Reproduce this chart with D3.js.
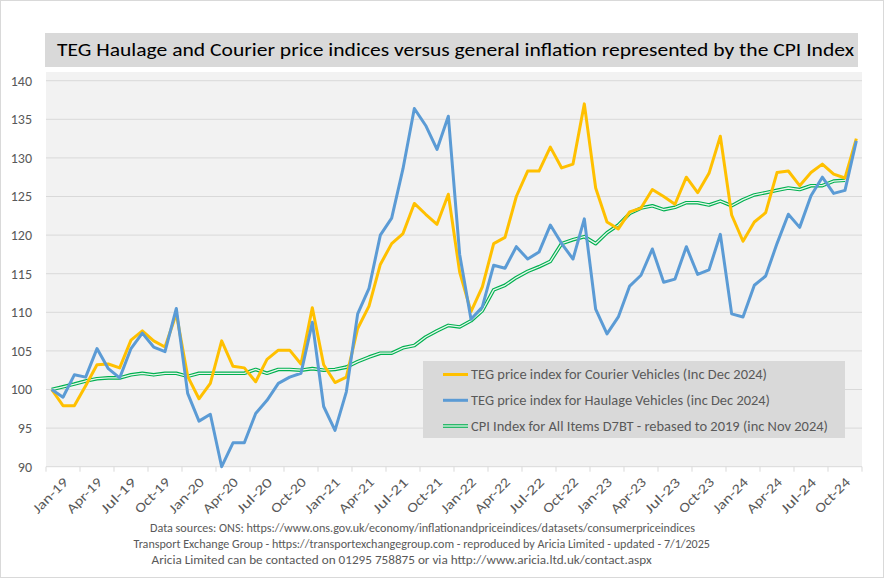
<!DOCTYPE html>
<html><head><meta charset="utf-8">
<script src="https://cdn.jsdelivr.net/npm/d3@7/dist/d3.min.js"></script>
<style>
html,body{margin:0;padding:0;background:#fff;}
svg{display:block;}
text{font-family:Carlito,"Liberation Sans Narrow","Liberation Sans",sans-serif;}
</style></head>
<body>
<svg id="c" width="885" height="580"></svg>
<script>
const months = ["Jan-19","Feb-19","Mar-19","Apr-19","May-19","Jun-19","Jul-19","Aug-19","Sep-19","Oct-19","Nov-19","Dec-19",
"Jan-20","Feb-20","Mar-20","Apr-20","May-20","Jun-20","Jul-20","Aug-20","Sep-20","Oct-20","Nov-20","Dec-20",
"Jan-21","Feb-21","Mar-21","Apr-21","May-21","Jun-21","Jul-21","Aug-21","Sep-21","Oct-21","Nov-21","Dec-21",
"Jan-22","Feb-22","Mar-22","Apr-22","May-22","Jun-22","Jul-22","Aug-22","Sep-22","Oct-22","Nov-22","Dec-22",
"Jan-23","Feb-23","Mar-23","Apr-23","May-23","Jun-23","Jul-23","Aug-23","Sep-23","Oct-23","Nov-23","Dec-23",
"Jan-24","Feb-24","Mar-24","Apr-24","May-24","Jun-24","Jul-24","Aug-24","Sep-24","Oct-24","Nov-24","Dec-24"];

const courier = [100.0,97.9,97.9,100.5,103.2,103.3,102.8,106.4,107.6,106.3,105.5,109.8,
101.7,98.8,100.8,106.3,103.0,102.8,101.0,103.9,105.1,105.1,103.3,110.6,
103.2,100.9,101.6,107.9,110.8,116.2,118.9,120.2,124.1,122.7,121.4,125.3,
115.2,110.1,113.3,118.9,119.7,125.0,128.3,128.3,131.4,128.7,129.2,137.0,
126.1,121.7,120.8,123.0,123.5,125.9,125.0,124.0,127.5,125.5,128.0,132.8,
122.6,119.2,121.7,122.9,128.1,128.3,126.4,128.1,129.2,127.9,127.4,132.5];

const haulage = [100.0,99.0,101.9,101.6,105.3,102.7,101.5,105.3,107.3,105.5,104.9,110.5,
99.5,95.9,96.8,90.0,93.1,93.1,96.9,98.6,100.8,101.6,102.1,108.7,
97.8,94.7,99.7,109.8,113.1,120.0,122.2,128.6,136.4,134.2,131.1,135.4,
117.5,109.1,110.7,116.1,115.7,118.5,116.9,117.8,121.3,118.9,116.9,122.1,
110.4,107.2,109.4,113.4,114.8,118.2,113.9,114.3,118.5,114.9,115.5,120.1,
109.8,109.4,113.5,114.7,118.9,122.7,121.0,125.1,127.5,125.4,125.8,132.2];

const cpi = [100.0,100.35,100.7,101.1,101.4,101.5,101.5,101.9,102.1,101.9,102.1,102.1,
101.7,102.1,102.1,102.1,102.1,102.1,102.6,102.1,102.6,102.6,102.5,102.7,
102.5,102.6,102.9,103.6,104.2,104.7,104.7,105.4,105.7,106.8,107.6,108.3,
108.1,108.9,110.2,112.9,113.5,114.5,115.3,115.9,116.6,118.9,119.4,119.8,
118.9,120.3,121.3,122.8,123.5,123.8,123.3,123.6,124.2,124.2,123.9,124.4,
123.8,124.6,125.2,125.5,125.8,126.1,125.9,126.4,126.4,127.0,127.1];

const yTicks = [90,95,100,105,110,115,120,125,130,135,140];
const xTickLabels = months.filter((m,i)=>i%3===0);

const titleText = "TEG Haulage and Courier price indices versus general inflation represented by the CPI Index";
const legendLabels = ["TEG price index for Courier Vehicles (Inc Dec 2024)",
  "TEG price index for Haulage Vehicles (inc Dec 2024)",
  "CPI Index for All Items D7BT - rebased to 2019 (inc Nov 2024)"];
const footLines = ["Data sources: ONS: https://www.ons.gov.uk/economy/inflationandpriceindices/datasets/consumerpriceindices",
  "Transport Exchange Group - https://transportexchangegroup.com - reproduced by Aricia Limited - updated - 7/1/2025",
  "Aricia Limited can be contacted on 01295 758875 or via http://www.aricia.ltd.uk/contact.aspx"];

const FONT = 'Carlito,"Liberation Sans Narrow","Liberation Sans",sans-serif';
const svg = d3.select("#c");
const L = 46, R = 862, T = 72, B = 466.7;

// chart border
svg.append("rect").attr("x",0.5).attr("y",0.5).attr("width",883).attr("height",577)
  .attr("fill","#fff").attr("stroke","#d9d9d9");

// plot background
svg.append("rect").attr("x",L).attr("y",T).attr("width",R-L).attr("height",B-T).attr("fill","#f2f2f2");

// title
svg.append("rect").attr("x",45).attr("y",33).attr("width",813).attr("height",34).attr("fill","#d9d9d9");
svg.append("text").attr("x",57).attr("y",56).attr("font-size",19).attr("fill","#000")
  .attr("textLength",797).attr("lengthAdjust","spacingAndGlyphs").text(titleText);

const x = d3.scaleBand().domain(months).range([L,R]);
const bw = x.bandwidth();
const cx = m => x(m) + bw/2;
const y = d3.scaleLinear().domain([90,140]).range([B,80.7]);

// gridlines
svg.append("g").selectAll("line").data(yTicks.filter(t=>t>90)).join("line")
  .attr("x1",L).attr("x2",R).attr("y1",d=>y(d)).attr("y2",d=>y(d))
  .attr("stroke","#d9d9d9").attr("stroke-width",1);

// y axis labels
const yAxis = d3.axisLeft(y).tickValues(yTicks).tickSize(0).tickPadding(14);
const yg = svg.append("g").attr("transform",`translate(${L},0)`).call(yAxis);
yg.select(".domain").remove();
yg.selectAll("text").attr("font-size",14).attr("fill","#595959").style("font-family",FONT);

// x axis
svg.append("line").attr("x1",L).attr("x2",R).attr("y1",B).attr("y2",B).attr("stroke","#d9d9d9");
const tickBounds = months.map((m,i)=>i).filter(i=>i%3===0).map(i=>x(months[i])).concat([R]);
svg.append("g").selectAll("line").data(tickBounds).join("line")
  .attr("x1",d=>d).attr("x2",d=>d).attr("y1",B).attr("y2",B+5).attr("stroke","#d9d9d9");
const xAxis = d3.axisBottom(x).tickValues(xTickLabels).tickSize(0).tickPadding(0);
const xg = svg.append("g").attr("transform",`translate(0,${B})`).call(xAxis);
xg.select(".domain").remove();
xg.selectAll("text").attr("font-size",13.5).attr("fill","#595959").style("font-family",FONT)
  .attr("text-anchor","end").attr("dy","0.35em")
  .attr("textLength",44).attr("lengthAdjust","spacingAndGlyphs")
  .attr("transform","translate(14,13) rotate(-45)");

// lines (CPI bottom, then courier, then haulage on top)
const line = d3.line().x((d,i)=>cx(months[i])).y(d=>y(d));
svg.append("path").datum(cpi).attr("d",line).attr("fill","none").attr("stroke","#00b050")
  .attr("stroke-width",3.6).attr("stroke-linejoin","round");
svg.append("path").datum(cpi).attr("d",line).attr("fill","none").attr("stroke","#e8f6ec")
  .attr("stroke-width",1.3).attr("stroke-linejoin","round");
svg.append("path").datum(courier).attr("d",line).attr("fill","none").attr("stroke","#ffc000")
  .attr("stroke-width",3).attr("stroke-linejoin","round");
svg.append("path").datum(haulage).attr("d",line).attr("fill","none").attr("stroke","#5b9bd5")
  .attr("stroke-width",3).attr("stroke-linejoin","round");

// legend
svg.append("rect").attr("x",423).attr("y",361).attr("width",422).attr("height",77).attr("fill","#d9d9d9");
const legColors = ["#ffc000","#5b9bd5","#00b050"];
const legWidths = [296,299,357];
const legY = [374.5,400.3,426];
legendLabels.forEach((lab,i)=>{
  if(i<2){
    svg.append("line").attr("x1",443).attr("x2",468).attr("y1",legY[i]).attr("y2",legY[i])
      .attr("stroke",legColors[i]).attr("stroke-width",3);
  } else {
    svg.append("line").attr("x1",443).attr("x2",468).attr("y1",legY[i]).attr("y2",legY[i])
      .attr("stroke","#00b050").attr("stroke-width",3.6);
    svg.append("line").attr("x1",443).attr("x2",468).attr("y1",legY[i]).attr("y2",legY[i])
      .attr("stroke","#e8f6ec").attr("stroke-width",1.3);
  }
  svg.append("text").attr("x",471).attr("y",legY[i]+4.5).attr("font-size",13.5).attr("fill","#595959")
    .attr("textLength",legWidths[i]).attr("lengthAdjust","spacingAndGlyphs").text(lab);
});

// footnotes
const footX = [150,133.5,151.6];
const footW = [545,576.5,500];
footLines.forEach((t,i)=>{
  svg.append("text").attr("x",footX[i]).attr("y",532+i*16)
    .attr("font-size",12).attr("fill","#595959")
    .attr("textLength",footW[i]).attr("lengthAdjust","spacingAndGlyphs").text(t);
});
</script>
</body></html>
